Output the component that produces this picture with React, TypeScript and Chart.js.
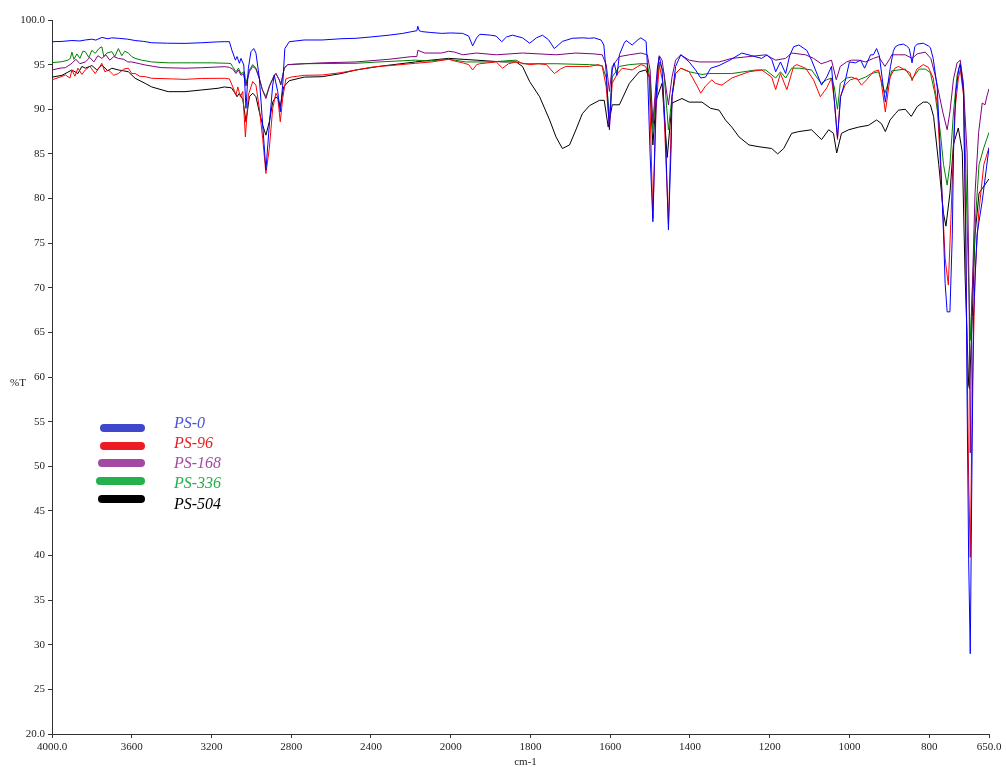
import { useEffect, useRef } from 'react';
import { Chart, registerables, LinearScale } from 'chart.js';

Chart.register(...registerables);

// ---------- axis definition (wavenumber, cm-1) ----------
const X_MAX = 4000;
const X_BREAK = 2000; // scale is expanded 2x below this wavenumber
const X_MIN = 650;
const X_TICKS = [4000, 3600, 3200, 2800, 2400, 2000, 1800, 1600, 1400, 1200, 1000, 800, 650];
const Y_MIN = 20;
const Y_MAX = 100;
const Y_STEP = 5;

const SERIES_NAMES = ['PS-0', 'PS-96', 'PS-168', 'PS-336', 'PS-504'];
const LINE_COLORS = ['#0000ff', '#ff0000', '#800080', '#008000', '#000000'];
const LEGEND_COLORS = ['#3f48cc', '#ed1c24', '#a349a4', '#22b14c', '#000000'];
const LEGEND_TEXT_COLORS = ['#4b52d4', '#ed1c24', '#a349a4', '#22b14c', '#000000'];

// ---------- spectra: [wavenumber, %T] ----------
const PS0: [number, number][] = [
  [4000, 97.57], [3950, 97.6], [3900, 97.7], [3860, 97.65], [3833, 97.76], [3800, 97.85], [3780, 97.75],
  [3750, 98.05], [3720, 97.9], [3700, 98.0], [3667, 97.95], [3620, 97.85], [3583, 97.7], [3540, 97.6],
  [3500, 97.45], [3420, 97.4], [3333, 97.38], [3250, 97.45], [3170, 97.55], [3133, 97.57], [3110, 97.57],
  [3098, 96.64], [3080, 95.5], [3072, 95.9], [3060, 95.15], [3052, 95.7], [3038, 94.96], [3027, 90.1],
  [3015, 94.6], [3002, 96.45], [2988, 96.8], [2977, 96.3], [2960, 93.5], [2943, 88.2], [2927, 83.2],
  [2910, 88.2], [2893, 92.7], [2885, 93.8], [2868, 92.0], [2855, 89.7], [2843, 92.7], [2832, 96.8],
  [2810, 97.57], [2735, 97.76], [2645, 97.76], [2550, 97.9], [2475, 97.95], [2400, 98.1], [2310, 98.3],
  [2240, 98.5], [2195, 98.7], [2170, 98.8], [2165, 99.3], [2158, 98.8], [2145, 98.7], [2100, 98.6],
  [2045, 98.5], [2000, 98.55], [1970, 98.5], [1955, 98.2], [1945, 97.1], [1935, 98.0], [1927, 98.4],
  [1900, 98.3], [1886, 98.2], [1872, 97.57], [1860, 98.1], [1845, 98.3], [1820, 98.0], [1802, 97.4],
  [1785, 98.0], [1770, 98.3], [1755, 97.8], [1740, 96.8], [1720, 97.6], [1695, 97.95], [1670, 98.0],
  [1652, 97.95], [1640, 98.0], [1623, 97.76], [1616, 97.2], [1610, 94.1], [1602, 87.7], [1595, 94.4],
  [1590, 95.2], [1583, 93.8], [1577, 96.1], [1565, 97.4], [1560, 97.7], [1545, 97.2], [1530, 97.8],
  [1523, 98.0], [1510, 97.6], [1507, 95.2], [1500, 85.0], [1493, 77.4], [1487, 88.0], [1482, 94.5],
  [1477, 95.9], [1470, 94.5], [1462, 88.0], [1454, 76.5], [1447, 86.0], [1445, 91.4], [1436, 94.8],
  [1423, 96.1], [1402, 95.3], [1386, 94.4], [1373, 93.5], [1361, 93.6], [1348, 94.6], [1327, 94.9],
  [1300, 95.5], [1270, 96.3], [1245, 96.0], [1220, 95.7], [1207, 96.1], [1195, 95.6], [1185, 94.2],
  [1173, 95.3], [1160, 94.0], [1150, 96.0], [1140, 97.0], [1127, 97.2], [1107, 96.6], [1095, 95.5],
  [1070, 92.7], [1057, 93.6], [1045, 94.8], [1038, 91.0], [1030, 86.8], [1022, 91.4], [1010, 93.3],
  [1000, 95.3], [985, 95.2], [972, 95.5], [962, 94.6], [947, 96.1], [940, 96.1], [932, 96.8],
  [925, 96.0], [918, 93.5], [910, 90.8], [903, 93.0], [897, 94.8], [890, 96.5], [885, 97.0],
  [877, 97.2], [865, 97.3], [857, 97.1], [850, 96.8], [843, 95.2], [836, 97.0], [830, 97.3],
  [815, 97.4], [802, 97.1], [797, 96.9], [790, 95.7], [780, 92.5], [772, 85.2], [764, 76.0],
  [760, 70.5], [755, 67.3], [748, 67.3], [742, 76.0], [739, 85.2], [733, 92.0], [726, 94.5],
  [722, 95.0], [714, 92.0], [708, 76.0], [705, 57.8], [701, 39.5], [697, 29.0], [693, 48.6],
  [689, 66.8], [680, 76.0], [667, 79.7], [650, 85.7],
];

const PS96: [number, number][] = [
  [4000, 93.3], [3960, 93.6], [3933, 93.84], [3910, 93.5], [3900, 94.4], [3885, 93.7], [3870, 94.6],
  [3850, 93.9], [3833, 94.4], [3810, 94.8], [3783, 94.0], [3765, 94.6], [3750, 95.15], [3735, 94.2],
  [3717, 94.4], [3690, 93.8], [3667, 94.0], [3640, 94.5], [3617, 94.6], [3600, 94.0], [3583, 94.0],
  [3560, 93.7], [3533, 93.65], [3500, 93.47], [3400, 93.4], [3333, 93.35], [3250, 93.45], [3133, 93.47],
  [3110, 93.4], [3093, 92.5], [3077, 91.6], [3068, 92.5], [3055, 91.4], [3043, 92.0], [3030, 86.9],
  [3015, 91.6], [2993, 93.1], [2977, 92.7], [2960, 90.1], [2943, 86.7], [2927, 82.8], [2910, 85.6],
  [2893, 90.1], [2877, 91.8], [2868, 91.4], [2855, 88.6], [2843, 91.2], [2827, 93.4], [2802, 93.6],
  [2735, 93.8], [2645, 93.84], [2550, 94.1], [2475, 94.4], [2400, 94.7], [2360, 94.8], [2300, 94.9],
  [2250, 95.0], [2177, 95.15], [2095, 95.3], [2010, 95.6], [1990, 95.4], [1970, 95.2], [1955, 95.0],
  [1945, 94.4], [1935, 95.0], [1927, 95.1], [1886, 95.3], [1870, 94.6], [1855, 95.1], [1836, 95.3],
  [1802, 95.0], [1780, 95.1], [1760, 95.0], [1740, 94.0], [1725, 94.5], [1711, 94.8], [1652, 94.8],
  [1630, 95.0], [1620, 94.8], [1610, 92.5], [1602, 88.0], [1595, 92.9], [1582, 94.0], [1570, 94.6],
  [1545, 94.4], [1523, 95.0], [1511, 94.8], [1502, 93.6], [1493, 77.8], [1485, 90.0], [1477, 95.0],
  [1468, 93.0], [1454, 77.2], [1445, 91.4], [1436, 94.0], [1423, 94.6], [1402, 94.2], [1382, 92.6],
  [1373, 91.8], [1361, 92.6], [1345, 93.3], [1336, 92.9], [1320, 92.7], [1295, 93.5], [1252, 94.2],
  [1220, 94.4], [1195, 93.6], [1185, 92.2], [1173, 94.0], [1157, 92.2], [1140, 94.8], [1132, 95.0],
  [1110, 94.6], [1090, 93.3], [1073, 91.4], [1057, 92.4], [1045, 93.5], [1038, 91.0], [1030, 86.6],
  [1023, 91.4], [1011, 92.7], [998, 93.3], [982, 93.5], [970, 92.7], [957, 93.3], [940, 94.2],
  [927, 94.4], [921, 93.3], [910, 89.7], [898, 93.6], [886, 94.6], [877, 94.8], [865, 94.5],
  [848, 94.1], [843, 93.2], [831, 94.5], [815, 95.0], [802, 94.7], [790, 93.5], [780, 90.7],
  [768, 80.6], [760, 73.3], [752, 70.3], [745, 78.3], [736, 89.7], [727, 93.4], [722, 94.5],
  [714, 91.6], [708, 73.8], [701, 48.6], [697, 39.8], [692, 57.8], [685, 71.4], [676, 78.3],
  [663, 83.8], [650, 85.7],
];

const PS168: [number, number][] = [
  [4000, 94.4], [3960, 94.6], [3933, 94.66], [3910, 95.0], [3900, 95.15], [3880, 95.6], [3860, 95.1],
  [3833, 95.3], [3810, 95.8], [3790, 95.3], [3770, 96.0], [3750, 95.7], [3730, 96.1], [3710, 95.5],
  [3690, 95.9], [3667, 95.7], [3640, 95.6], [3620, 95.3], [3600, 95.3], [3560, 95.1], [3533, 94.96],
  [3490, 94.8], [3450, 94.66], [3333, 94.6], [3250, 94.65], [3133, 94.77], [3110, 94.7], [3093, 94.5],
  [3077, 94.0], [3065, 94.4], [3052, 93.8], [3040, 94.0], [3027, 92.6], [3010, 94.2], [2993, 94.8],
  [2977, 94.5], [2960, 93.4], [2945, 92.2], [2927, 91.2], [2910, 92.5], [2885, 93.8], [2877, 94.0],
  [2860, 93.3], [2852, 92.8], [2835, 94.6], [2818, 95.0], [2735, 95.1], [2645, 95.2], [2475, 95.3],
  [2310, 95.6], [2195, 95.9], [2170, 95.9], [2165, 96.6], [2130, 96.3], [2110, 96.3], [2045, 96.3],
  [2010, 96.5], [1990, 96.4], [1970, 96.1], [1936, 96.3], [1886, 96.1], [1820, 96.3], [1736, 96.1],
  [1686, 96.3], [1640, 96.2], [1620, 96.1], [1610, 95.0], [1602, 92.0], [1595, 94.8], [1577, 95.9],
  [1552, 96.1], [1523, 96.3], [1507, 96.1], [1500, 94.4], [1493, 88.5], [1485, 93.0], [1477, 96.0],
  [1470, 95.5], [1454, 90.5], [1445, 93.6], [1436, 95.5], [1423, 96.1], [1402, 95.5], [1377, 95.3],
  [1352, 95.3], [1327, 95.3], [1295, 95.7], [1252, 95.9], [1210, 96.1], [1185, 95.5], [1160, 95.7],
  [1145, 96.3], [1110, 96.1], [1090, 95.7], [1071, 95.1], [1057, 95.3], [1045, 95.5], [1033, 93.3],
  [1023, 94.8], [1007, 95.3], [995, 95.5], [977, 95.5], [960, 95.3], [940, 95.7], [927, 95.9],
  [911, 94.8], [898, 95.7], [894, 96.1], [877, 96.1], [860, 96.1], [843, 95.7], [830, 96.2],
  [810, 96.4], [796, 95.7], [785, 93.8], [766, 89.7], [755, 87.7], [748, 89.7], [739, 93.4],
  [730, 95.2], [722, 95.5], [714, 92.5], [705, 85.2], [700, 70.0], [697, 51.5], [693, 68.0],
  [685, 80.6], [676, 87.4], [667, 90.7], [660, 90.5], [655, 91.5], [650, 92.3],
];

const PS336: [number, number][] = [
  [4000, 95.22], [3950, 95.33], [3920, 95.5], [3908, 95.7], [3900, 96.4], [3890, 95.6], [3875, 96.2],
  [3860, 95.7], [3845, 96.5], [3833, 96.45], [3815, 95.8], [3800, 96.6], [3783, 96.26], [3765, 96.8],
  [3750, 97.0], [3740, 95.9], [3725, 96.3], [3700, 96.45], [3685, 95.9], [3667, 96.8], [3650, 96.0],
  [3635, 96.5], [3617, 96.3], [3600, 95.9], [3583, 95.7], [3550, 95.5], [3500, 95.3], [3417, 95.2],
  [3300, 95.2], [3200, 95.2], [3117, 95.15], [3102, 95.1], [3095, 94.8], [3077, 94.2], [3065, 94.6],
  [3052, 94.0], [3035, 94.2], [3027, 92.9], [3010, 94.4], [2993, 95.0], [2977, 94.6], [2960, 93.5],
  [2945, 92.2], [2927, 91.4], [2910, 92.6], [2885, 93.8], [2877, 94.0], [2860, 93.3], [2852, 92.7],
  [2835, 94.6], [2818, 95.0], [2735, 95.1], [2475, 95.15], [2360, 95.3], [2177, 95.5], [2110, 95.4],
  [2010, 95.6], [1961, 95.3], [1900, 95.3], [1836, 95.5], [1820, 95.1], [1736, 95.1], [1652, 95.0],
  [1620, 94.9], [1610, 93.5], [1602, 89.0], [1595, 93.6], [1577, 94.8], [1552, 95.0], [1523, 95.1],
  [1507, 95.1], [1500, 93.3], [1493, 87.7], [1485, 92.0], [1477, 95.3], [1465, 94.0], [1454, 87.7],
  [1445, 91.4], [1436, 94.0], [1423, 94.6], [1402, 94.2], [1370, 93.9], [1352, 94.0], [1295, 94.0],
  [1235, 94.4], [1210, 94.4], [1185, 93.5], [1173, 94.2], [1160, 93.5], [1145, 94.6], [1125, 94.6],
  [1095, 94.4], [1071, 92.9], [1057, 93.3], [1045, 93.5], [1038, 92.5], [1030, 90.0], [1023, 92.9],
  [1007, 93.5], [995, 93.6], [977, 93.3], [960, 93.6], [945, 94.0], [927, 94.2], [911, 91.8],
  [898, 93.6], [894, 94.3], [860, 94.5], [843, 93.4], [825, 94.5], [810, 94.5], [797, 94.1],
  [785, 91.6], [772, 87.4], [764, 83.8], [755, 81.5], [748, 83.8], [739, 89.7], [730, 93.8],
  [722, 95.2], [714, 92.9], [708, 82.8], [701, 70.5], [697, 64.1], [692, 69.6], [683, 78.3],
  [675, 83.8], [663, 85.7], [650, 87.4],
];

const PS504: [number, number][] = [
  [4000, 93.6], [3950, 93.8], [3900, 94.4], [3870, 94.0], [3850, 94.8], [3833, 94.6], [3800, 94.9],
  [3775, 94.4], [3750, 94.96], [3720, 94.3], [3700, 94.6], [3667, 94.4], [3640, 94.3], [3617, 94.2],
  [3583, 93.47], [3533, 92.9], [3500, 92.5], [3417, 91.97], [3333, 91.97], [3250, 92.16], [3167, 92.35],
  [3135, 92.5], [3100, 92.4], [3085, 91.9], [3072, 91.4], [3060, 91.8], [3043, 91.1], [3027, 88.6],
  [3010, 91.4], [2993, 91.8], [2977, 91.4], [2960, 89.7], [2943, 88.2], [2927, 87.1], [2910, 88.6],
  [2893, 90.8], [2877, 91.4], [2865, 91.1], [2855, 90.3], [2838, 92.5], [2810, 93.2], [2735, 93.6],
  [2645, 93.65], [2550, 94.0], [2475, 94.4], [2360, 94.8], [2177, 95.3], [2100, 95.5], [2010, 95.7],
  [1936, 95.5], [1870, 95.3], [1836, 95.3], [1820, 94.8], [1802, 93.1], [1777, 91.4], [1752, 88.8],
  [1736, 86.9], [1720, 85.6], [1702, 86.0], [1686, 87.7], [1670, 89.5], [1652, 90.4], [1627, 91.0],
  [1615, 91.0], [1605, 88.0], [1595, 90.5], [1577, 90.5], [1552, 92.9], [1527, 94.2], [1511, 94.4],
  [1502, 93.6], [1493, 86.0], [1485, 91.0], [1470, 92.9], [1457, 84.6], [1445, 90.7], [1420, 91.2],
  [1402, 90.8], [1370, 90.8], [1348, 90.1], [1327, 89.9], [1311, 88.8], [1295, 88.0], [1277, 86.9],
  [1252, 86.0], [1227, 85.8], [1195, 85.6], [1180, 85.0], [1165, 85.6], [1145, 87.3], [1127, 87.5],
  [1095, 87.7], [1070, 86.6], [1052, 87.7], [1040, 87.3], [1032, 85.1], [1020, 87.3], [1002, 87.7],
  [977, 88.0], [952, 88.2], [932, 88.8], [920, 88.4], [910, 87.5], [898, 88.8], [885, 89.5],
  [877, 89.9], [860, 90.0], [845, 89.2], [830, 90.3], [815, 90.8], [805, 90.8], [797, 90.5],
  [789, 89.2], [776, 83.8], [764, 78.3], [758, 76.9], [748, 80.6], [739, 86.1], [727, 87.9],
  [717, 85.2], [710, 71.4], [701, 59.1], [699, 58.7], [692, 66.8], [685, 76.0], [675, 80.6],
  [650, 82.2],
];

const SERIES_DATA = [PS0, PS96, PS168, PS336, PS504];

// ---------- custom split-scale (2x expansion below 2000 cm-1) ----------
const SPAN_HIGH = X_MAX - X_BREAK;
const SPAN_TOTAL = SPAN_HIGH + 2 * (X_BREAK - X_MIN);

class FtirScale extends LinearScale {
  static id = 'ftir';
  static defaults = LinearScale.defaults;
  getPixelForValue(value: number) {
    const u = value >= X_BREAK ? X_MAX - value : SPAN_HIGH + 2 * (X_BREAK - value);
    return this.getPixelForDecimal(u / SPAN_TOTAL);
  }
  getValueForPixel(pixel: number) {
    const u = this.getDecimalForPixel(pixel) * SPAN_TOTAL;
    return u <= SPAN_HIGH ? X_MAX - u : X_BREAK - (u - SPAN_HIGH) / 2;
  }
}
Chart.register(FtirScale as any);

const FONT_FAMILY = '"Liberation Serif", "Times New Roman", serif';

const overlayPlugin = {
  id: 'ftirOverlay',
  afterDraw(chart: any) {
    const ctx = chart.ctx;
    const area = chart.chartArea;
    ctx.save();
    // axis titles
    ctx.fillStyle = '#222';
    ctx.font = `11px ${FONT_FAMILY}`;
    ctx.textAlign = 'center';
    ctx.textBaseline = 'middle';
    ctx.fillText('%T', 18, (area.top + area.bottom) / 2 + 6);
    ctx.fillText('cm-1', (area.left + area.right) / 2 + 5, area.bottom + 28);
    // legend
    const swatchY = [428, 446, 463, 481, 499];
    const swatchX0 = [100, 100, 98, 96, 98];
    const textY = [424, 444, 464, 484, 505];
    ctx.lineCap = 'round';
    ctx.lineWidth = 8;
    SERIES_NAMES.forEach((name, i) => {
      ctx.strokeStyle = LEGEND_COLORS[i];
      ctx.beginPath();
      ctx.moveTo(swatchX0[i] + 4, swatchY[i]);
      ctx.lineTo(145 - 4, swatchY[i]);
      ctx.stroke();
      ctx.fillStyle = LEGEND_TEXT_COLORS[i];
      ctx.font = `italic 16px ${FONT_FAMILY}`;
      ctx.textAlign = 'left';
      ctx.textBaseline = 'middle';
      ctx.fillText(name, 174, textY[i]);
    });
    ctx.restore();
  },
};

export default function App() {
  const canvasRef = useRef<HTMLCanvasElement | null>(null);

  useEffect(() => {
    document.body.style.margin = '0';
    document.body.style.overflow = 'hidden';
    const canvas = canvasRef.current;
    if (!canvas) return;

    const datasets = SERIES_DATA.map((series, i) => ({
      label: SERIES_NAMES[i],
      data: series.map(([x, y]) => ({ x, y })),
      borderColor: LINE_COLORS[i],
      backgroundColor: LINE_COLORS[i],
      borderWidth: 1,
      pointRadius: 0,
      tension: 0,
      fill: false,
    }));

    const chart = new Chart(canvas, {
      type: 'line',
      data: { datasets },
      options: {
        animation: false,
        responsive: false,
        maintainAspectRatio: false,
        events: [],
        parsing: true,
        layout: { padding: { top: 20, right: 17, left: 0, bottom: 0 } },
        plugins: {
          legend: { display: false },
          tooltip: { enabled: false },
          title: { display: false },
        },
        scales: {
          x: {
            type: 'ftir' as any,
            min: X_MIN,
            max: X_MAX,
            afterBuildTicks: (scale: any) => {
              scale.ticks = X_TICKS.map((v) => ({ value: v }));
            },
            afterFit: (scale: any) => {
              scale.height = 33;
            },
            grid: { drawOnChartArea: false, drawTicks: true, tickLength: 4, color: '#333' },
            border: { display: true, color: '#333', width: 1 },
            ticks: {
              autoSkip: false,
              maxRotation: 0,
              padding: 3,
              color: '#222',
              font: { family: FONT_FAMILY, size: 11 },
              callback: (v: any) => (v === X_MAX || v === X_MIN ? Number(v).toFixed(1) : String(v)),
            },
          },
          y: {
            type: 'linear',
            min: Y_MIN,
            max: Y_MAX,
            afterFit: (scale: any) => {
              scale.width = 52;
            },
            grid: { drawOnChartArea: false, drawTicks: true, tickLength: 4, color: '#333' },
            border: { display: true, color: '#333', width: 1 },
            ticks: {
              stepSize: Y_STEP,
              autoSkip: false,
              padding: 3,
              color: '#222',
              font: { family: FONT_FAMILY, size: 11 },
              callback: (v: any) => (v === Y_MAX || v === Y_MIN ? Number(v).toFixed(1) : String(v)),
            },
          },
        },
      },
      plugins: [overlayPlugin],
    });

    return () => chart.destroy();
  }, []);

  return (
    <div style={{ width: 1006, height: 767, background: '#fff' }}>
      <canvas ref={canvasRef} width={1006} height={767} style={{ display: 'block', width: 1006, height: 767 }} />
    </div>
  );
}
